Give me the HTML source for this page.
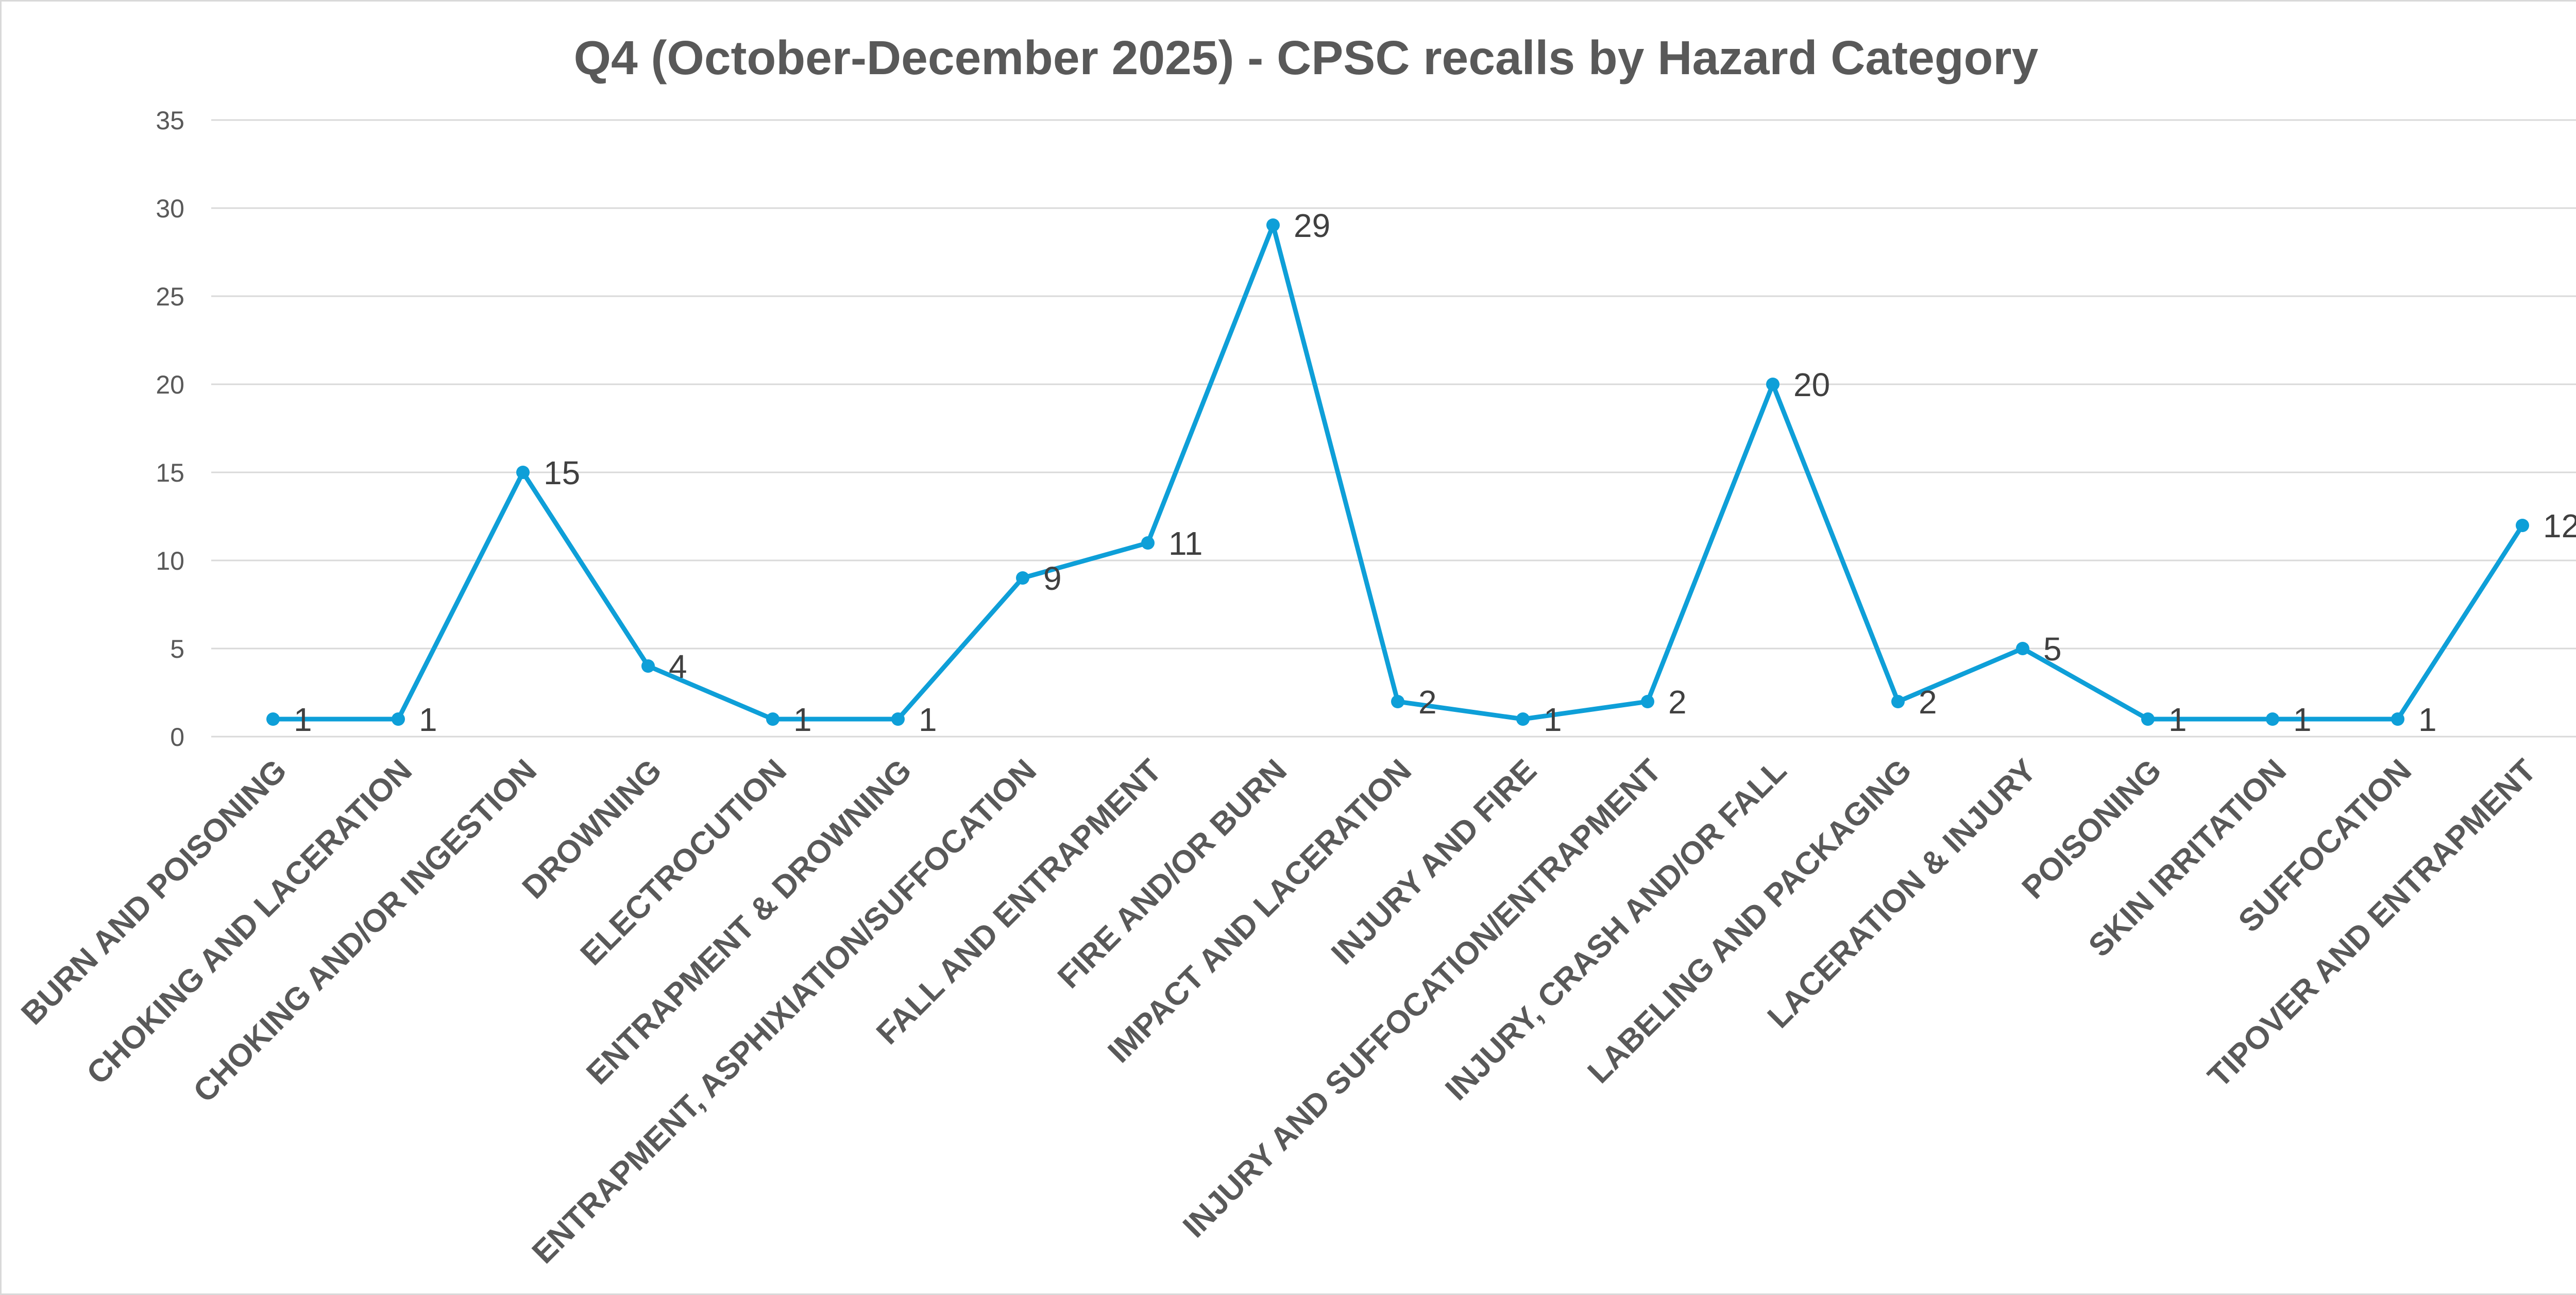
<!DOCTYPE html>
<html><head><meta charset="utf-8"><style>
html,body{margin:0;padding:0;background:#fff}
svg{display:block}
</style></head><body>
<svg width="5071" height="2514" viewBox="0 0 5071 2514" xmlns="http://www.w3.org/2000/svg" font-family="Liberation Sans, sans-serif">
<rect x="1.5" y="1.5" width="5068" height="2511" fill="#fff" stroke="#d9d9d9" stroke-width="3"/>
<text x="2535" y="144" text-anchor="middle" font-size="93" font-weight="bold" fill="#595959">Q4 (October-December 2025) - CPSC recalls by Hazard Category</text>
<g stroke="#d9d9d9" stroke-width="3">
<line x1="410" x2="5013" y1="1430" y2="1430"/>
<line x1="410" x2="5013" y1="1259" y2="1259"/>
<line x1="410" x2="5013" y1="1088" y2="1088"/>
<line x1="410" x2="5013" y1="917" y2="917"/>
<line x1="410" x2="5013" y1="746" y2="746"/>
<line x1="410" x2="5013" y1="575" y2="575"/>
<line x1="410" x2="5013" y1="404" y2="404"/>
<line x1="410" x2="5013" y1="233" y2="233"/>
</g>
<g font-size="50" fill="#595959" text-anchor="end">
<text x="358" y="1448">0</text>
<text x="358" y="1277">5</text>
<text x="358" y="1106">10</text>
<text x="358" y="935">15</text>
<text x="358" y="764">20</text>
<text x="358" y="593">25</text>
<text x="358" y="422">30</text>
<text x="358" y="251">35</text>
</g>
<polyline fill="none" stroke="#0e9fd8" stroke-width="9" stroke-linejoin="round" points="530,1396 773,1396 1015,917 1258,1293 1500,1396 1743,1396 1985,1122 2228,1054 2471,437 2713,1362 2956,1396 3198,1362 3441,746 3684,1362 3926,1259 4169,1396 4411,1396 4654,1396 4896,1020"/>
<g fill="#0e9fd8">
<circle cx="530" cy="1396" r="13"/><circle cx="773" cy="1396" r="13"/><circle cx="1015" cy="917" r="13"/><circle cx="1258" cy="1293" r="13"/><circle cx="1500" cy="1396" r="13"/><circle cx="1743" cy="1396" r="13"/><circle cx="1985" cy="1122" r="13"/><circle cx="2228" cy="1054" r="13"/><circle cx="2471" cy="437" r="13"/><circle cx="2713" cy="1362" r="13"/><circle cx="2956" cy="1396" r="13"/><circle cx="3198" cy="1362" r="13"/><circle cx="3441" cy="746" r="13"/><circle cx="3684" cy="1362" r="13"/><circle cx="3926" cy="1259" r="13"/><circle cx="4169" cy="1396" r="13"/><circle cx="4411" cy="1396" r="13"/><circle cx="4654" cy="1396" r="13"/><circle cx="4896" cy="1020" r="13"/>
</g>
<g font-size="64" fill="#404040">
<text x="570" y="1419">1</text><text x="813" y="1419">1</text><text x="1055" y="940">15</text><text x="1298" y="1316">4</text><text x="1540" y="1419">1</text><text x="1783" y="1419">1</text><text x="2025" y="1145">9</text><text x="2268" y="1077">11</text><text x="2511" y="460">29</text><text x="2753" y="1385">2</text><text x="2996" y="1419">1</text><text x="3238" y="1385">2</text><text x="3481" y="769">20</text><text x="3724" y="1385">2</text><text x="3966" y="1282">5</text><text x="4209" y="1419">1</text><text x="4451" y="1419">1</text><text x="4694" y="1419">1</text><text x="4936" y="1043">12</text>
</g>
<g font-size="62" font-weight="bold" fill="#595959" text-anchor="end">
<text transform="translate(560,1500) rotate(-45)">BURN AND POISONING</text>
<text transform="translate(803,1500) rotate(-45)">CHOKING AND LACERATION</text>
<text transform="translate(1045,1500) rotate(-45)">CHOKING AND/OR INGESTION</text>
<text transform="translate(1288,1500) rotate(-45)">DROWNING</text>
<text transform="translate(1530,1500) rotate(-45)">ELECTROCUTION</text>
<text transform="translate(1773,1500) rotate(-45)">ENTRAPMENT &amp; DROWNING</text>
<text transform="translate(2015,1500) rotate(-45)">ENTRAPMENT, ASPHIXIATION/SUFFOCATION</text>
<text transform="translate(2258,1500) rotate(-45)">FALL AND ENTRAPMENT</text>
<text transform="translate(2501,1500) rotate(-45)">FIRE AND/OR BURN</text>
<text transform="translate(2743,1500) rotate(-45)">IMPACT AND LACERATION</text>
<text transform="translate(2986,1500) rotate(-45)">INJURY AND FIRE</text>
<text transform="translate(3228,1500) rotate(-45)">INJURY AND SUFFOCATION/ENTRAPMENT</text>
<text transform="translate(3471,1500) rotate(-45)">INJURY, CRASH AND/OR FALL</text>
<text transform="translate(3714,1500) rotate(-45)">LABELING AND PACKAGING</text>
<text transform="translate(3956,1500) rotate(-45)">LACERATION &amp; INJURY</text>
<text transform="translate(4199,1500) rotate(-45)">POISONING</text>
<text transform="translate(4441,1500) rotate(-45)">SKIN IRRITATION</text>
<text transform="translate(4684,1500) rotate(-45)">SUFFOCATION</text>
<text transform="translate(4926,1500) rotate(-45)">TIPOVER AND ENTRAPMENT</text>
</g>
</svg>
</body></html>
